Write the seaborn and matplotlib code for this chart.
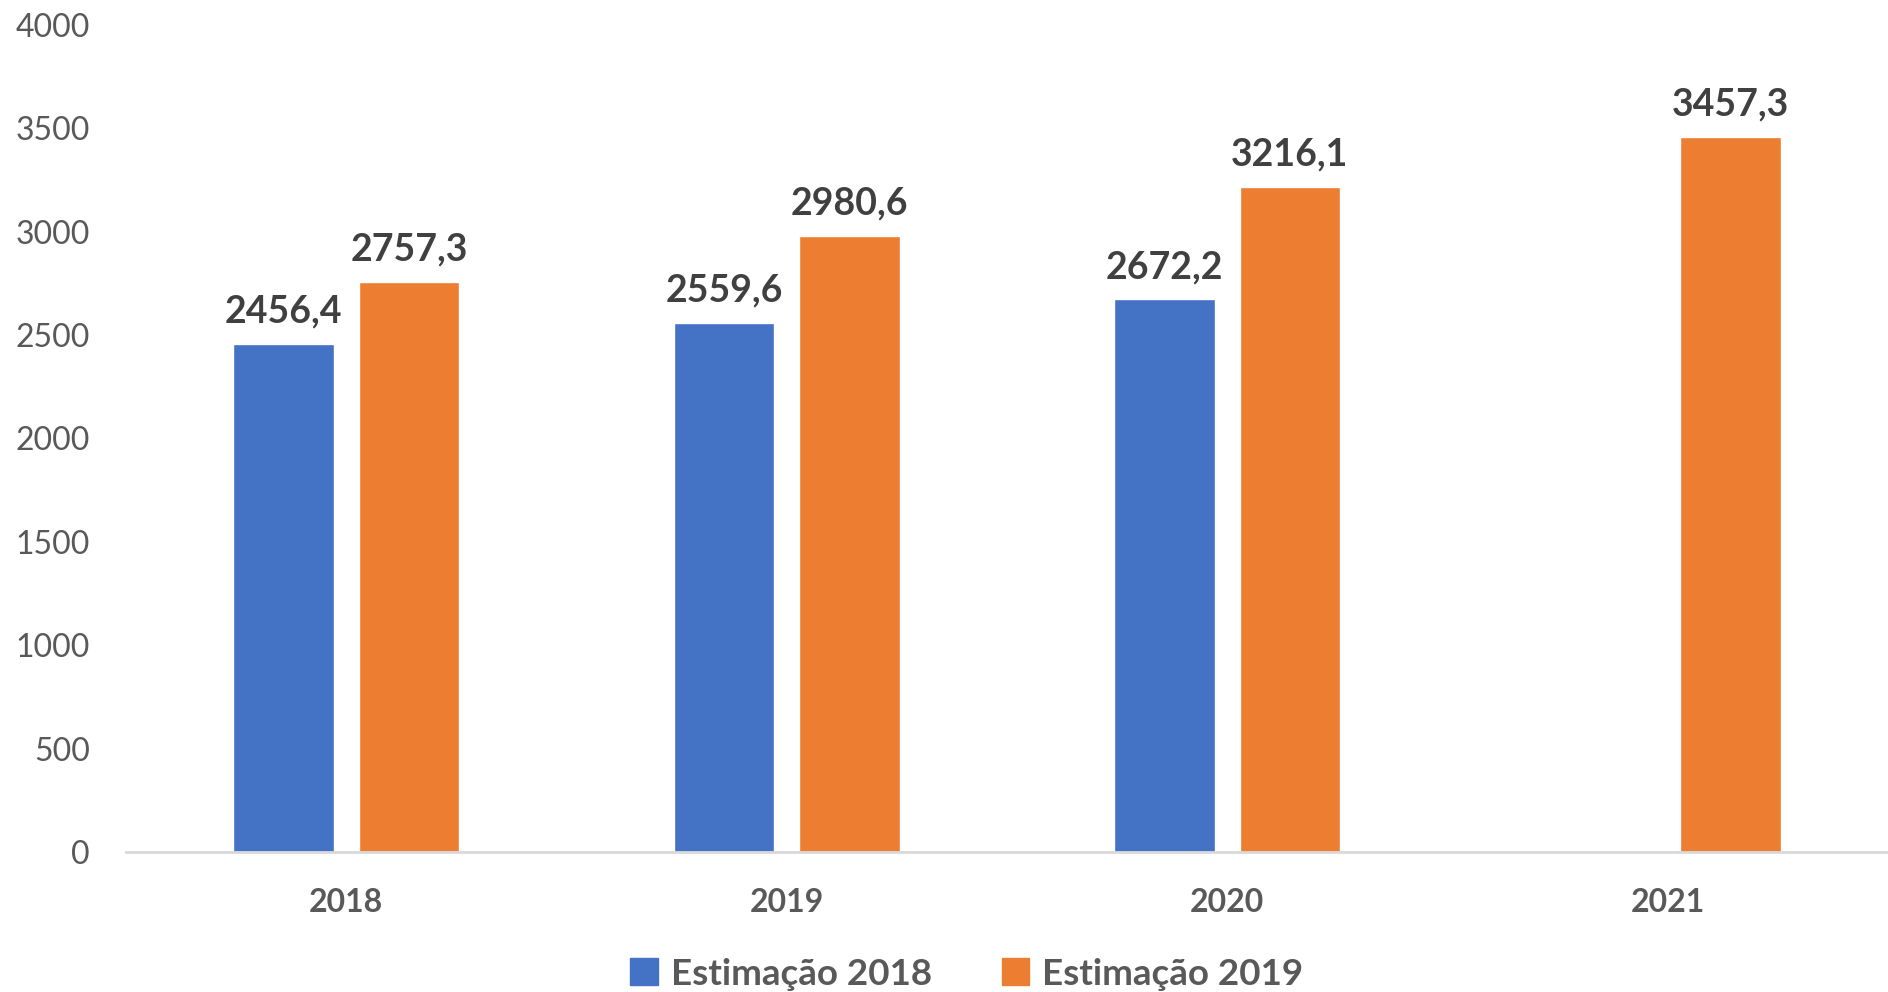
import numpy as np
import pandas as pd
import matplotlib
matplotlib.use("Agg")
import matplotlib.pyplot as plt
import seaborn as sns

years = ["2018", "2019", "2020", "2021"]
est_2018 = [2456.4, 2559.6, 2672.2, np.nan]
est_2019 = [2757.3, 2980.6, 3216.1, 3457.3]
series_names = ["Estimação 2018", "Estimação 2019"]
colors = ["#4472C4", "#ED7D31"]

df = pd.DataFrame({
    "ano": years * 2,
    "serie": [series_names[0]] * 4 + [series_names[1]] * 4,
    "valor": est_2018 + est_2019,
})

sns.set_theme(style="white")
plt.rcParams["font.family"] = ["Lato", "DejaVu Sans"]

fig = plt.figure(figsize=(18.88, 9.92), dpi=100)
ax = fig.add_axes([0.0667, 0.141, 0.9333, 0.834])

sns.barplot(data=df, x="ano", y="valor", hue="serie", palette=colors,
            width=0.57, gap=0.2, ax=ax, saturation=1)

# rótulos com vírgula decimal
for cont in ax.containers:
    labs = []
    for b in cont:
        h = b.get_height()
        labs.append("" if np.isnan(h) else f"{h:.1f}".replace(".", ","))
    ax.bar_label(cont, labels=labs, padding=11, fontsize=27,
                 fontweight="bold", color="#404040")

ax.set_ylim(0, 4000)
ax.set_yticks(range(0, 4001, 500))
ax.set_xlim(-0.5, 3.5)
ax.set_xlabel("")
ax.set_ylabel("")
for s in ["top", "right", "left"]:
    ax.spines[s].set_visible(False)
ax.spines["bottom"].set_color("#D9D9D9")
ax.spines["bottom"].set_linewidth(2)
ax.tick_params(axis="y", length=0, pad=26, labelsize=23, labelcolor="#595959")
ax.tick_params(axis="x", length=0, pad=26, labelsize=23, labelcolor="#595959")
for t in ax.get_xticklabels():
    t.set_fontweight("bold")

ax.legend_.remove()
handles = [plt.Rectangle((0, 0), 1, 1, color=c) for c in colors]
fig.legend(handles, series_names, loc="lower center", bbox_to_anchor=(0.512, -0.032),
           ncol=2, frameon=False, handlelength=0.75, handleheight=0.75,
           handletextpad=0.35, columnspacing=1.9,
           prop={"size": 26.5, "weight": "bold"}, labelcolor="#595959")

fig.savefig("out.png", dpi=100)
